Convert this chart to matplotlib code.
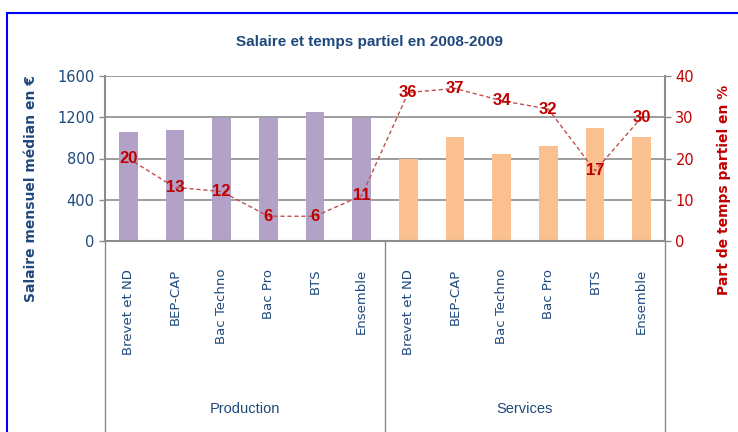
import matplotlib.pyplot as plt
from matplotlib.lines import Line2D
from matplotlib.patches import Rectangle

categories = ["Brevet et ND", "BEP-CAP", "Bac Techno", "Bac Pro", "BTS", "Ensemble"]
groups = ["Production", "Services"]
salaire_production = [1060, 1080, 1190, 1190, 1250, 1190]
salaire_services = [800, 1010, 840, 920, 1100, 1010]
temps_partiel = [20, 13, 12, 6, 6, 11, 36, 37, 34, 32, 17, 30]

blue = "#1F497D"
red = "#C00000"
grey = "#8C8C8C"
narrow = ["Liberation Sans", "DejaVu Sans"]

fig = plt.figure(figsize=(7.38, 4.32), dpi=100)
ax = fig.add_axes([105 / 738, 1 - 241 / 432, 560 / 738, 165 / 432])

n = len(categories)
x_prod = list(range(n))
x_serv = list(range(n, 2 * n))
ax.bar(x_prod, salaire_production, width=0.4, color="#B3A2C7", zorder=2)
ax.bar(x_serv, salaire_services, width=0.4, color="#FAC090", zorder=2)

ax.set_xlim(-0.5, 2 * n - 0.5)
ax.set_ylim(0, 1600)
ax.set_yticks(range(0, 1601, 400))
ax.yaxis.grid(True, color=grey, linewidth=1.2, zorder=0)
ax.tick_params(axis="y", colors=grey, labelcolor=blue, labelsize=10.5, length=4, width=1)
ax.set_xticks(x_prod + x_serv)
ax.set_xticklabels(categories * 2, rotation=90, color=blue, fontsize=9.5)
ax.tick_params(axis="x", length=0, pad=20)
for s in ["left", "right", "top", "bottom"]:
    ax.spines[s].set_color(grey)
    ax.spines[s].set_linewidth(1.5)
ax.spines["top"].set_visible(False)
ax.spines["right"].set_visible(False)
ax.set_ylabel("Salaire mensuel médian en €", color=blue, fontsize=10, fontweight="bold")
ax.yaxis.set_label_coords(-0.12, 0.32)

ax2 = ax.twinx()
x_all = x_prod + x_serv
ax2.plot(x_all, temps_partiel, color="#C0504D", linestyle=(0, (3, 2)), linewidth=1, zorder=3)
for xi, v in zip(x_all, temps_partiel):
    ax2.text(xi, v, str(v), color=red, fontsize=12, fontweight="bold", ha="center", va="center",
             family=narrow, zorder=4)
ax2.set_ylim(0, 40)
ax2.set_yticks(range(0, 41, 10))
ax2.tick_params(axis="y", colors=grey, labelcolor=red, labelsize=10.5, length=4, width=1)
for s in ["left", "right", "top", "bottom"]:
    ax2.spines[s].set_visible(False)
ax2.spines["right"].set_visible(True)
ax2.spines["right"].set_color(grey)
ax2.spines["right"].set_linewidth(1.5)
ax2.set_ylabel("Part de temps partiel en %", color=red, fontsize=10, fontweight="bold")
ax2.yaxis.set_label_coords(1.093, 0.31)

# group separators and labels below the axis
for xs in [-0.5, n - 0.5, 2 * n - 0.5]:
    ax.add_line(Line2D([xs, xs], [0, -1.2], transform=ax.get_xaxis_transform(),
                       color=grey, linewidth=1, clip_on=False))
for i, g in enumerate(groups):
    ax.text(i * n + (n - 1) / 2, -1.02, g, transform=ax.get_xaxis_transform(),
            ha="center", va="center", color=blue, fontsize=10.5, family=narrow)

fig.text(0.5, 1 - 42 / 432, "Salaire et temps partiel en 2008-2009", ha="center", va="center",
         color=blue, fontsize=11, fontweight="bold", family=narrow)

fig.patches.append(Rectangle((7 / 738, -0.1), 1.2, 1 - 13 / 432 + 0.1, transform=fig.transFigure,
                             fill=False, edgecolor="#0000FF", linewidth=1.5))

fig.savefig("out.png", dpi=100)
